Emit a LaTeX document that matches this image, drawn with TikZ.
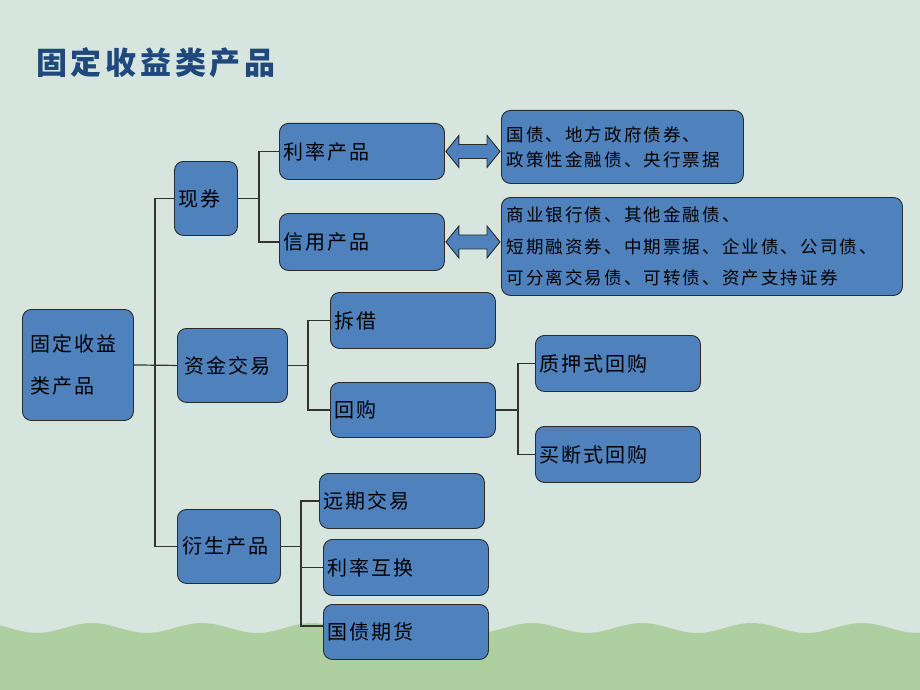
\documentclass[tikz,border=0pt]{standalone}
\usepackage{fontspec}
\setmainfont{Noto Sans CJK SC}
\newfontfamily\boxfont[LetterSpace=10]{Noto Sans CJK SC}
\newfontfamily\smallfont[LetterSpace=12]{Noto Sans CJK SC}
\newfontfamily\titlefont[LetterSpace=12]{Noto Sans CJK SC}
\usetikzlibrary{calc}
\definecolor{bg}{HTML}{D6E5DD}
\definecolor{grass}{HTML}{AED0A0}
\definecolor{boxblue}{HTML}{4F81BD}
\definecolor{titleblue}{HTML}{1F497D}
\definecolor{edge}{HTML}{2B2B2B}
\newcommand\mydblarrow[2]{%
  \filldraw[arr] let \p1=(#1.east), \p2=(#2.west) in
    (\x1+1pt,\y1) -- (\x1+14pt,\y1+16pt) -- (\x1+14pt,\y1+7pt) -- (\x2-14pt,\y1+7pt)
    -- (\x2-14pt,\y1+16pt) -- (\x2-1pt,\y1) -- (\x2-14pt,\y1-16pt) -- (\x2-14pt,\y1-7pt)
    -- (\x1+14pt,\y1-7pt) -- (\x1+14pt,\y1-16pt) -- cycle;}
\begin{document}
\begin{tikzpicture}[x=1pt,y=-1pt,
  box/.style={draw=edge, line width=0.9pt, fill=boxblue, rounded corners=9pt,
    anchor=north west, align=left, inner xsep=4pt, inner ysep=0pt,
    font=\boxfont\fontsize{20}{24}\selectfont, text=black},
  smalltext/.style={font=\smallfont\fontsize{17.5}{25}\selectfont},
  wire/.style={draw=black!80, line width=1.2pt},
  arr/.style={fill=boxblue, draw=edge, line width=0.9pt}]
\fill[bg] (0,0) rectangle (920,690);
\useasboundingbox (0,0) rectangle (920,690);
\fill[grass] (0,690) -- plot[domain=0:920,samples=160] (\x,{628-5*cos(3.2727*(\x-92))}) -- (920,690) -- cycle;

\node[anchor=west, inner sep=0pt, text=titleblue,
  font=\titlefont\fontsize{31}{33}\selectfont\bfseries] (title) at (36,63) {固定收益类产品};

\node[box, inner xsep=8pt, text width=95pt, minimum height=111pt,
  font=\boxfont\fontsize{20}{42}\selectfont] (root) at (22,309) {固定收益\\类产品};
\node[box, text width=55pt, minimum height=74pt] (xianquan) at (174,161) {现券};
\node[box, text width=157pt, minimum height=56pt] (lilv) at (279,123) {利率产品};
\node[box, text width=157pt, minimum height=57pt] (xinyong) at (279,213) {信用产品};
\node[box, smalltext, inner xsep=5pt, text width=232pt, minimum height=73pt] (guozhai) at (501,110)
  {国债、地方政府债券、\\政策性金融债、央行票据};
\node[box, inner xsep=5pt, font=\smallfont\fontsize{17.5}{31.5}\selectfont, text width=391pt, minimum height=98pt] (shangye) at (501,197)
  {商业银行债、其他金融债、\\短期融资券、中期票据、企业债、公司债、\\可分离交易债、可转债、资产支持证券};
\node[box, inner xsep=7pt, text width=96pt, minimum height=74pt] (zijin) at (177,328) {资金交易};
\node[box, text width=157pt, minimum height=56pt] (chaijie) at (330,292) {拆借};
\node[box, text width=157pt, minimum height=55pt] (huigou) at (330,382) {回购};
\node[box, text width=157pt, minimum height=56pt] (zhiya) at (535,335) {质押式回购};
\node[box, text width=157pt, minimum height=56pt] (maiduan) at (535,426) {买断式回购};
\node[box, inner xsep=5pt, text width=93pt, minimum height=74pt] (yansheng) at (177,509) {衍生产品};
\node[box, text width=157pt, minimum height=55pt] (yuanqi) at (319,473) {远期交易};
\node[box, text width=157pt, minimum height=56pt] (huhuan) at (323,539) {利率互换};
\node[box, text width=157pt, minimum height=55pt] (qihuo) at (323,604) {国债期货};

% connectors
\draw[wire] (root.east) -- (zijin.west);
\draw[wire] (xianquan.west) -- ++(-19,0) |- (yansheng.west);
\draw[wire] (xianquan.east) -- ++(21,0) coordinate (b1);
\draw[wire] (b1) |- (lilv.west);
\draw[wire] (b1) |- (xinyong.west);
\draw[wire] (zijin.east) -- ++(20,0) coordinate (b2);
\draw[wire] (b2) |- (chaijie.west);
\draw[wire] (b2) |- (huigou.west);
\draw[wire] (huigou.east) -- ++(22,0) coordinate (b3);
\draw[wire] (b3) |- (zhiya.west);
\draw[wire] (b3) |- (maiduan.west);
\draw[wire] (yansheng.east) -- ++(20,0) coordinate (b4);
\draw[wire] (b4) |- (yuanqi.west);
\draw[wire] (b4) |- (huhuan.west);
\draw[wire] (b4) |- ([yshift=6pt]qihuo.west);

\mydblarrow{lilv}{guozhai}
\mydblarrow{xinyong}{shangye}
\end{tikzpicture}
\end{document}
